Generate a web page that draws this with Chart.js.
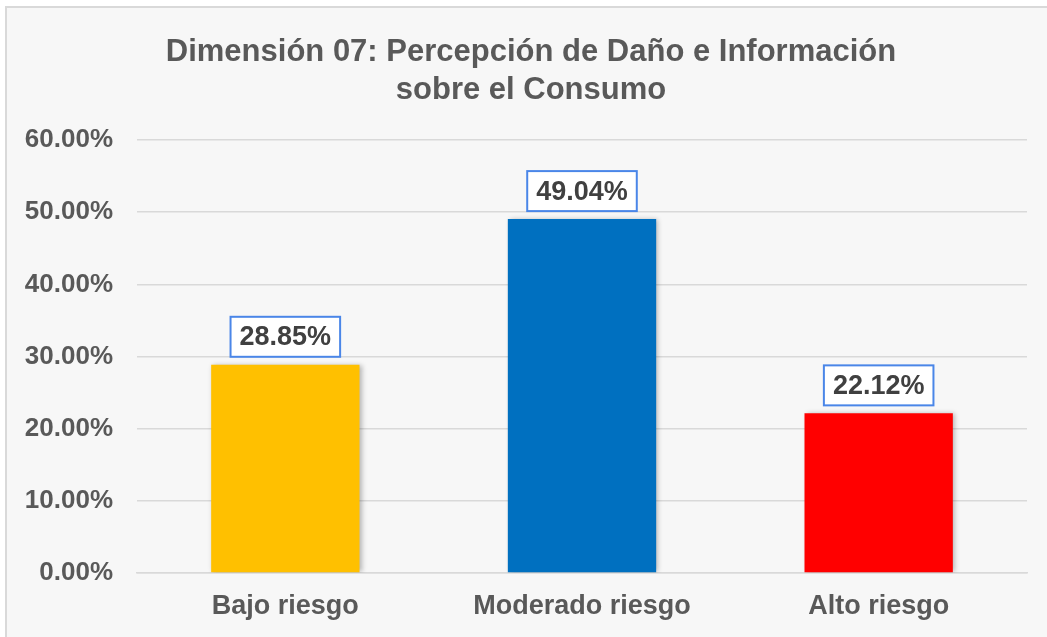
<!DOCTYPE html>
<html>
<head>
<meta charset="utf-8">
<script src="https://cdn.jsdelivr.net/npm/chart.js@4.4.1/dist/chart.umd.min.js"></script>
<style>
  html, body { margin: 0; padding: 0; background: #ffffff; }
  #wrap { width: 1047px; height: 637px; position: relative; }
</style>
</head>
<body>
<div id="wrap"><canvas id="c" width="1047" height="637"></canvas></div>
<script>
const categories = ["Bajo riesgo", "Moderado riesgo", "Alto riesgo"];
const values = [28.85, 49.04, 22.12];
const barColors = ["#FFC000", "#0070C0", "#FF0000"];
const titleLines = ["Dimensión 07: Percepción de Daño e Información", "sobre el Consumo"];
const yMin = 0, yMax = 60, yStep = 10;

const FONT = "'Liberation Sans', Arial, sans-serif";
const TITLE_SIZE = 31;
const TITLE_LH = 38;

const bgPlugin = {
  id: 'bg',
  beforeDraw(chart) {
    const ctx = chart.ctx;
    ctx.save();
    ctx.fillStyle = '#ffffff';
    ctx.fillRect(0, 0, chart.width, chart.height);
    ctx.fillStyle = '#f7f7f7';
    ctx.fillRect(7, 8, chart.width - 7, chart.height - 8);
    ctx.fillStyle = '#d9d9d9';
    ctx.fillRect(5, 6, 2, chart.height - 6);
    ctx.fillRect(5, 6, chart.width - 5, 2);
    ctx.restore();
  }
};

const titleDrawPlugin = {
  id: 'titleDraw',
  afterDraw(chart) {
    const ctx = chart.ctx;
    const tb = chart.titleBlock;
    ctx.save();
    ctx.font = "bold " + TITLE_SIZE + "px " + FONT;
    ctx.fillStyle = '#595959';
    ctx.textAlign = 'center';
    ctx.textBaseline = 'middle';
    const top = tb.top + tb.options.padding.top;
    titleLines.forEach((line, i) => {
      ctx.fillText(line, 531, top + TITLE_LH * (i + 0.5));
    });
    ctx.restore();
  }
};

const shadowPlugin = {
  id: 'barShadow',
  beforeDatasetsDraw(chart) {
    const ctx = chart.ctx;
    ctx.save();
    ctx.shadowColor = 'rgba(0,0,0,0.28)';
    ctx.shadowBlur = 5;
    ctx.shadowOffsetX = 2;
    ctx.shadowOffsetY = 0;
  },
  afterDatasetsDraw(chart) {
    chart.ctx.restore();
  }
};

const labelPlugin = {
  id: 'boxLabels',
  afterDatasetsDraw(chart) {
    const ctx = chart.ctx;
    const meta = chart.getDatasetMeta(0);
    ctx.save();
    ctx.font = "bold 27px " + FONT;
    ctx.textAlign = 'center';
    ctx.textBaseline = 'middle';
    meta.data.forEach((el, i) => {
      const txt = values[i].toFixed(2) + '%';
      const w = ctx.measureText(txt).width + 18;
      const h = 40;
      const x = el.x;
      const bottom = el.y - 8;
      const top = bottom - h;
      ctx.fillStyle = '#ffffff';
      ctx.fillRect(x - w / 2, top, w, h);
      ctx.strokeStyle = '#4a86e8';
      ctx.lineWidth = 2;
      ctx.strokeRect(x - w / 2, top, w, h);
      ctx.fillStyle = '#404040';
      ctx.fillText(txt, x, top + h / 2 + 1);
    });
    ctx.restore();
  }
};

new Chart(document.getElementById('c'), {
  type: 'bar',
  data: {
    labels: categories,
    datasets: [{
      data: values,
      backgroundColor: barColors,
      borderWidth: 0,
      barPercentage: 0.5,
      categoryPercentage: 1.0
    }]
  },
  options: {
    responsive: false,
    animation: false,
    devicePixelRatio: 1,
    layout: { padding: { left: 0, right: 20, top: 0, bottom: 0 } },
    plugins: {
      legend: { display: false },
      tooltip: { enabled: false },
      title: {
        display: true,
        text: titleLines,
        color: 'rgba(0,0,0,0)',
        font: { family: FONT, size: TITLE_SIZE, weight: 'bold', lineHeight: TITLE_LH / TITLE_SIZE },
        padding: { top: 33, bottom: 31 }
      }
    },
    scales: {
      x: {
        grid: { display: false, drawTicks: false },
        border: { display: true, color: '#d9d9d9', width: 1.5 },
        ticks: {
          color: '#595959',
          font: { family: FONT, size: 27, weight: 'bold' },
          padding: 17
        },
        afterFit(scale) { scale.height = 64; }
      },
      y: {
        min: yMin, max: yMax,
        grid: { color: '#d9d9d9', lineWidth: 1.5, drawTicks: false },
        border: { display: false },
        ticks: {
          stepSize: yStep,
          color: '#595959',
          font: { family: FONT, size: 26, weight: 'bold' },
          padding: 24,
          callback: v => v.toFixed(2) + '%'
        },
        afterFit(scale) { scale.width = 137; }
      }
    }
  },
  plugins: [bgPlugin, shadowPlugin, labelPlugin, titleDrawPlugin]
});
</script>
</body>
</html>
